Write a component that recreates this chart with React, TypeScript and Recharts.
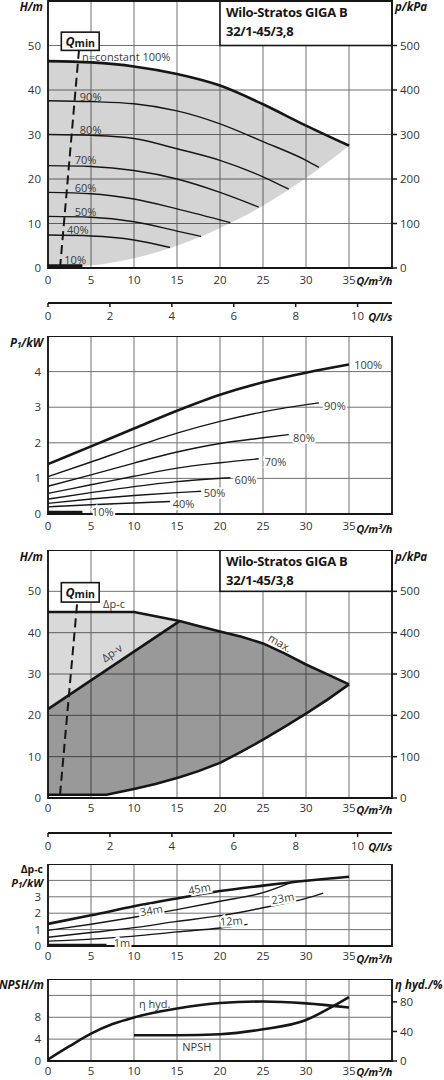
import type { ReactNode } from "react";
import { Area, CartesianGrid, ComposedChart, Line, ReferenceArea, ReferenceDot, XAxis, YAxis } from "recharts";

const FONT = '"Open Sans", "Noto Sans", Arial, sans-serif';
const INK = "#161616";
const GRID = "#707070";
const TEXT = "#333";
const LABEL = "#3c3c3c";
const W = 444;

// axis ticks
const Q_TICKS = [0, 5, 10, 15, 20, 25, 30, 35];
const QLS_TICKS = [0, 2, 4, 6, 8, 10];
const H_TICKS = [0, 10, 20, 30, 40, 50];
const KPA_TICKS = [0, 100, 200, 300, 400, 500];
const P1_TICKS = [0, 1, 2, 3, 4];
const NPSH_TICKS = [0, 4, 8, 12];
const ETA_TICKS = [0, 40, 80];

// chart 1: H over Q at constant speed, [Q m³/h, H m]
const H_100 = [[0, 46.5], [5, 46.2], [10, 45.3], [15, 43.6], [20, 41.0], [25, 36.8], [30, 32.0], [35, 27.5]];
const H_90 = [[0, 37.6], [5, 37.4], [10, 36.9], [15, 35.3], [20, 32.4], [25, 28.4], [30, 24.2], [31.5, 22.6]];
const H_80 = [[0, 30.0], [5, 29.8], [10, 29.1], [15, 26.8], [20, 24.2], [25, 20.5], [28, 17.7]];
const H_70 = [[0, 23.0], [5, 22.8], [10, 21.9], [15, 20.0], [20, 17.0], [24.5, 13.7]];
const H_60 = [[0, 17.0], [5, 16.7], [10, 15.5], [15, 13.3], [21.2, 10.2]];
const H_50 = [[0, 11.6], [5, 11.4], [10, 10.4], [15, 8.3], [17.8, 7.1]];
const H_40 = [[0, 7.4], [5, 7.2], [10, 6.3], [14.2, 4.6]];
const H_10 = [[0, 0.5], [4, 0.5]];
// lower edge of the grey working range, same Q points as H_100
const RANGE_LOW = [0, 0.55, 2.2, 5.0, 9.0, 14.0, 20.2, 27.5];
const QMIN_1 = [[1.4, 0], [3.6, 48.9]];

// chart 2: P1 over Q, [Q m³/h, P1 kW]
const P_100 = [[0, 1.4], [5, 1.9], [10, 2.4], [15, 2.9], [20, 3.35], [25, 3.7], [30, 3.97], [35, 4.2]];
const P_90 = [[0, 1.05], [5, 1.46], [10, 1.88], [15, 2.27], [20, 2.6], [25, 2.87], [31.5, 3.12]];
const P_80 = [[0, 0.78], [5, 1.1], [10, 1.43], [15, 1.74], [20, 1.98], [25, 2.14], [28, 2.23]];
const P_70 = [[0, 0.58], [5, 0.82], [10, 1.06], [15, 1.29], [20, 1.44], [24.5, 1.55]];
const P_60 = [[0, 0.42], [5, 0.6], [10, 0.77], [15, 0.91], [21.2, 1.02]];
const P_50 = [[0, 0.3], [5, 0.42], [10, 0.52], [15, 0.6], [17.8, 0.64]];
const P_40 = [[0, 0.2], [5, 0.26], [10, 0.31], [14.2, 0.35]];
const P_10 = [[0, 0.05], [4, 0.05]];

// chart 3: control modes, [Q, H]
const DPC_MAX = [[0, 45], [10, 45], [15.3, 42.8], [17.5, 41.6], [20, 40.3], [22.5, 39.0], [25, 37.4], [27.5, 35.0], [30, 32.3], [32.5, 29.9], [35, 27.5]];
const DPV = [[0, 21.5], [15.3, 42.8]];
const MIN_CURVE = [[0, 0.8], [6.8, 0.8], [10, 2.2], [12.5, 3.4], [15.3, 5.0], [17.5, 6.5], [20, 8.5], [22.5, 11.2], [25, 14.1], [27.5, 17.2], [30, 20.4], [32.5, 23.8], [35, 27.5]];
// [Q, low, high]
const LIGHT_BAND = [[0, 21.5, 45], [10, 35.4, 45], [15.3, 42.8, 42.8]];
const DARK_BAND = [[0, 0.8, 21.5], [6.8, 0.8, 31.0], [10, 2.2, 35.4], [12.5, 3.4, 38.9], [15.3, 5.0, 42.8], [17.5, 6.5, 41.6], [20, 8.5, 40.3], [22.5, 11.2, 39.0], [25, 14.1, 37.4], [27.5, 17.2, 35.0], [30, 20.4, 32.3], [32.5, 23.8, 29.9], [35, 27.5, 27.5]];
const QMIN_3 = [[1.4, 0.8], [3.4, 47.4]];

// chart 4: P1 at Δp-c set points, [Q, P1]
const C_45 = [[0, 1.35], [5, 1.87], [10, 2.42], [15, 2.9], [20, 3.35], [25, 3.68], [30, 3.98], [35, 4.22]];
const C_34 = [[0, 0.95], [5, 1.33], [10, 1.75], [15, 2.22], [20, 2.73], [25, 3.25], [28.3, 3.88]];
const C_23 = [[0, 0.53], [5, 0.82], [10, 1.12], [15, 1.5], [20, 1.85], [25, 2.33], [30, 2.9], [32, 3.22]];
const C_12 = [[0, 0.3], [5, 0.42], [10, 0.6], [15, 0.86], [20, 1.1], [23.2, 1.32]];
const C_1 = [[0, 0.05], [6.8, 0.05]];

// chart 5
const ETA = [[0, 2], [2.5, 20], [5, 37], [7.5, 50], [10, 59], [15, 71], [20, 78.5], [25, 80.5], [30, 78], [35, 72.5]];
const NPSH = [[10, 4.7], [15, 4.7], [20, 4.9], [25, 5.8], [30, 7.5], [33, 9.9], [35, 11.7]];

const tickStyle = { fontSize: 11.5, fill: TEXT, fontFamily: FONT };

function curve(key: string, pts: number[][], yId: string, width: number, opts: { dash?: string; linear?: boolean } = {}) {
  return (
    <Line
      key={key}
      data={pts.map(([q, v]) => ({ q, v }))}
      dataKey="v"
      xAxisId="q"
      yAxisId={yId}
      type={opts.linear ? "linear" : "monotone"}
      stroke={INK}
      strokeWidth={width}
      strokeDasharray={opts.dash}
      dot={false}
      activeDot={false}
      isAnimationActive={false}
    />
  );
}

// invisible series so that an axis without its own data still gets drawn
function carrier(key: string, xId: string, yId: string, xs: number[], ys: number[]) {
  return (
    <Line key={key} data={xs.map((q, i) => ({ q, v: ys[i] }))} dataKey="v" xAxisId={xId} yAxisId={yId} stroke="none" dot={false} activeDot={false} isAnimationActive={false} />
  );
}

function band(key: string, rows: number[][], yId: string, opacity: number, linear = false) {
  return (
    <Area
      key={key}
      data={rows.map(([q, lo, hi]) => ({ q, r: [lo, hi] }))}
      dataKey="r"
      xAxisId="q"
      yAxisId={yId}
      type={linear ? "linear" : "monotone"}
      stroke="none"
      fill="#000"
      fillOpacity={opacity}
      isAnimationActive={false}
    />
  );
}

function tag(key: string, q: number, v: number, text: ReactNode, yId: string, o: { rotate?: number; anchor?: "start" | "middle" | "end"; halo?: boolean } = {}) {
  return (
    <ReferenceDot
      key={key}
      xAxisId="q"
      yAxisId={yId}
      x={q}
      y={v}
      r={0}
      ifOverflow="visible"
      shape={(p: any) => (
        <text
          x={p.cx}
          y={p.cy}
          textAnchor={o.anchor ?? "start"}
          dominantBaseline="central"
          transform={o.rotate ? `rotate(${o.rotate} ${p.cx} ${p.cy})` : undefined}
          fontFamily={FONT}
          fontSize={11}
          fill={LABEL}
          stroke={o.halo ? "#fff" : "none"}
          strokeWidth={o.halo ? 4 : 0}
          paintOrder="stroke"
        >
          {text}
        </text>
      )}
    />
  );
}

function frame(key: string, yId: string, yMax: number) {
  return (
    <ReferenceArea key={key} xAxisId="q" yAxisId={yId} x1={0} x2={40} y1={0} y2={yMax} ifOverflow="visible" fill="none" stroke={INK} strokeWidth={1.8} />
  );
}

function titleBox(key: string) {
  return (
    <ReferenceArea
      key={key}
      xAxisId="q"
      yAxisId="h"
      x1={20}
      x2={40}
      y1={50}
      y2={60}
      ifOverflow="visible"
      shape={(p: any) => (
        <g>
          <rect x={p.x} y={p.y} width={p.width} height={p.height} fill="#fff" stroke={INK} strokeWidth={1.6} />
          <text x={p.x + 6} y={p.y + 11} dominantBaseline="central" fontFamily={FONT} fontWeight={700} fontSize={13} letterSpacing={-0.3} fill={INK}>
            Wilo-Stratos GIGA B
          </text>
          <text x={p.x + 6} y={p.y + 29.5} dominantBaseline="central" fontFamily={FONT} fontWeight={700} fontSize={13} letterSpacing={-0.3} fill={INK}>
            32/1-45/3,8
          </text>
        </g>
      )}
    />
  );
}

function qminBox(key: string, y1: number, y2: number) {
  return (
    <ReferenceArea
      key={key}
      xAxisId="q"
      yAxisId="h"
      x1={1.55}
      x2={5.95}
      y1={y1}
      y2={y2}
      ifOverflow="visible"
      shape={(p: any) => (
        <g>
          <rect x={p.x} y={p.y} width={p.width} height={p.height} fill="#fff" stroke={INK} strokeWidth={1.6} />
          <text x={p.x + p.width / 2} y={p.y + p.height / 2} textAnchor="middle" dominantBaseline="central" fontFamily={FONT} fontWeight={700} fontSize={12.5} fill={INK}>
            <tspan fontStyle="italic">Q</tspan>
            <tspan fontSize={10.5} dy={1.5}>min</tspan>
          </text>
        </g>
      )}
    />
  );
}

function headAxes(mainH: number, gap: number) {
  return [
    <XAxis key="xq" xAxisId="q" type="number" dataKey="q" domain={[0, 40]} ticks={Q_TICKS} height={mainH} axisLine={false} tickLine={false} tickSize={0} tickMargin={gap} tick={tickStyle} interval={0} />,
    <YAxis key="yh" yAxisId="h" type="number" domain={[0, 60]} ticks={H_TICKS} width={48} axisLine={false} tickLine={false} tickSize={0} tickMargin={7} tick={tickStyle} interval={0} />,
    <YAxis key="yp" yAxisId="kpa" orientation="right" type="number" domain={[0, 600]} ticks={KPA_TICKS} width={52} axisLine={false} tickLine={{ stroke: INK, strokeWidth: 1.5 }} tickSize={5} tickMargin={3} tick={tickStyle} interval={0} />,
    <CartesianGrid key="grid" xAxisId="q" yAxisId="h" stroke={GRID} strokeWidth={1} />,
    carrier("kpaCarrier", "q", "kpa", [0, 40], [0, 600]),
  ];
}

// the Q in l/s scale under the head charts (10 l/s = 36 m³/h)
function FlowLsAxis() {
  return (
    <ComposedChart width={W} height={30} margin={{ top: 1, right: 52, bottom: 0, left: 48 }}>
      <XAxis xAxisId="ls" type="number" dataKey="q" domain={[0, 40 / 3.6]} ticks={QLS_TICKS} height={29} axisLine={{ stroke: INK, strokeWidth: 1.8 }} tickLine={{ stroke: INK, strokeWidth: 1.5 }} tickSize={4} tickMargin={5} tick={tickStyle} interval={0} />
      <YAxis yAxisId="d" hide domain={[0, 1]} />
      {carrier("lsCarrier", "ls", "d", [0, 40 / 3.6], [0, 0])}
    </ComposedChart>
  );
}

function SpeedHeadChart() {
  const rangeRows = H_100.map(([q, h], i) => [q, RANGE_LOW[i], h]);
  return (
    <ComposedChart width={W} height={303} margin={{ top: 1, right: 0, bottom: 0, left: 0 }}>
      {headAxes(35, 8)}
      {band("range", rangeRows, "h", 0.17)}
      {curve("h90", H_90, "h", 1.4)}
      {curve("h80", H_80, "h", 1.4)}
      {curve("h70", H_70, "h", 1.4)}
      {curve("h60", H_60, "h", 1.4)}
      {curve("h50", H_50, "h", 1.4)}
      {curve("h40", H_40, "h", 1.4)}
      {curve("h10", H_10, "h", 3, { linear: true })}
      {curve("h100", H_100, "h", 2.6)}
      {curve("qmin", QMIN_1, "h", 2, { dash: "9 5", linear: true })}
      {titleBox("title")}
      {qminBox("qminbox", 48.9, 53)}
      {tag("t100", 3.95, 47.5, "n=constant 100%", "h")}
      {tag("t90", 3.7, 38.5, "90%", "h")}
      {tag("t80", 3.7, 31.1, "80%", "h")}
      {tag("t70", 3.1, 24.3, "70%", "h")}
      {tag("t60", 3.1, 18.1, "60%", "h")}
      {tag("t50", 3.1, 12.8, "50%", "h")}
      {tag("t40", 2.2, 8.6, "40%", "h")}
      {tag("t10", 1.9, 2.0, "10%", "h")}
      {frame("frame", "h", 60)}
    </ComposedChart>
  );
}

function SpeedPowerChart() {
  return (
    <ComposedChart width={W} height={198} margin={{ top: 0, right: 52, bottom: 0, left: 0 }}>
      <XAxis xAxisId="q" type="number" dataKey="q" domain={[0, 40]} ticks={Q_TICKS} height={20} axisLine={false} tickLine={false} tickSize={0} tickMargin={8} tick={tickStyle} interval={0} />
      <YAxis yAxisId="p" type="number" domain={[0, 5]} ticks={P1_TICKS} width={48} axisLine={false} tickLine={false} tickSize={0} tickMargin={7} tick={tickStyle} interval={0} />
      <CartesianGrid xAxisId="q" yAxisId="p" stroke={GRID} strokeWidth={1} />
      {curve("p90", P_90, "p", 1.4)}
      {curve("p80", P_80, "p", 1.4)}
      {curve("p70", P_70, "p", 1.4)}
      {curve("p60", P_60, "p", 1.4)}
      {curve("p50", P_50, "p", 1.4)}
      {curve("p40", P_40, "p", 1.4)}
      {curve("p10", P_10, "p", 3, { linear: true })}
      {curve("p100", P_100, "p", 2.6)}
      {tag("l100", 35.6, 4.2, "100%", "p", { halo: true })}
      {tag("l90", 32.1, 3.04, "90%", "p", { halo: true })}
      {tag("l80", 28.5, 2.16, "80%", "p", { halo: true })}
      {tag("l70", 25.2, 1.48, "70%", "p", { halo: true })}
      {tag("l60", 21.7, 0.96, "60%", "p", { halo: true })}
      {tag("l50", 18.1, 0.59, "50%", "p", { halo: true })}
      {tag("l40", 14.5, 0.3, "40%", "p", { halo: true })}
      {tag("l10", 5.1, 0.07, "10%", "p", { halo: true })}
      {frame("frame", "p", 5)}
    </ComposedChart>
  );
}

function ControlHeadChart() {
  return (
    <ComposedChart width={W} height={282} margin={{ top: 0, right: 0, bottom: 0, left: 0 }}>
      {headAxes(34, 6)}
      {band("light", LIGHT_BAND, "h", 0.15, true)}
      {band("dark", DARK_BAND, "h", 0.4, true)}
      {curve("dpv", DPV, "h", 2.6, { linear: true })}
      {curve("min", MIN_CURVE, "h", 2.6, { linear: true })}
      {curve("max", DPC_MAX, "h", 2.6, { linear: true })}
      {curve("qmin", QMIN_3, "h", 2, { dash: "9 5", linear: true })}
      {titleBox("title")}
      {qminBox("qminbox", 47.4, 52.1)}
      {tag("dpc", 6.4, 47.0, "Δp-c", "h")}
      {tag("dpvl", 7.4, 35.2, "Δp-v", "h", { anchor: "middle", rotate: -34 })}
      {tag("maxl", 27.0, 37.6, "max.", "h", { anchor: "middle", rotate: 30 })}
      {frame("frame", "h", 60)}
    </ComposedChart>
  );
}

function ControlPowerChart() {
  return (
    <ComposedChart width={W} height={102} margin={{ top: 0, right: 52, bottom: 0, left: 0 }}>
      <XAxis xAxisId="q" type="number" dataKey="q" domain={[0, 40]} ticks={Q_TICKS} height={20} axisLine={false} tickLine={false} tickSize={0} tickMargin={6} tick={tickStyle} interval={0} />
      <YAxis yAxisId="p" type="number" domain={[0, 5]} ticks={P1_TICKS} width={48} axisLine={false} tickLine={false} tickSize={0} tickMargin={7} tick={tickStyle} interval={0} tickFormatter={(v: number) => (v === 4 ? "" : String(v))} />
      <CartesianGrid xAxisId="q" yAxisId="p" stroke={GRID} strokeWidth={1} />
      {curve("c34", C_34, "p", 1.4)}
      {curve("c23", C_23, "p", 1.4)}
      {curve("c12", C_12, "p", 1.4)}
      {curve("c1", C_1, "p", 3, { linear: true })}
      {curve("c45", C_45, "p", 2.6)}
      {tag("m45", 17.6, 3.52, "45m", "p", { anchor: "middle", rotate: -10, halo: true })}
      {tag("m34", 12.0, 2.2, "34m", "p", { anchor: "middle", rotate: -10, halo: true })}
      {tag("m23", 27.3, 2.94, "23m", "p", { anchor: "middle", rotate: -10, halo: true })}
      {tag("m12", 21.3, 1.55, "12m", "p", { anchor: "middle", rotate: -4, halo: true })}
      {tag("m1", 8.6, 0.21, "1m", "p", { anchor: "middle", halo: true })}
      {frame("frame", "p", 5)}
    </ComposedChart>
  );
}

function NpshChart() {
  return (
    <ComposedChart width={W} height={101} margin={{ top: 0, right: 0, bottom: 0, left: 0 }}>
      <XAxis xAxisId="q" type="number" dataKey="q" domain={[0, 40]} ticks={Q_TICKS} height={19} axisLine={false} tickLine={false} tickSize={0} tickMargin={6} tick={tickStyle} interval={0} />
      <YAxis yAxisId="n" type="number" domain={[0, 15]} ticks={NPSH_TICKS} width={48} axisLine={false} tickLine={false} tickSize={0} tickMargin={7} tick={tickStyle} interval={0} tickFormatter={(v: number) => (v === 12 ? "" : String(v))} />
      <YAxis yAxisId="eta" orientation="right" type="number" domain={[0, 111]} ticks={ETA_TICKS} width={52} axisLine={false} tickLine={{ stroke: INK, strokeWidth: 1.5 }} tickSize={5} tickMargin={3} tick={tickStyle} interval={0} />
      <CartesianGrid xAxisId="q" yAxisId="n" stroke={GRID} strokeWidth={1} />
      {curve("eta", ETA, "eta", 2.6)}
      {curve("npsh", NPSH, "n", 2.6)}
      {tag("etal", 12.4, 10.6, "η hyd.", "n", { anchor: "middle" })}
      {tag("npshl", 17.3, 2.7, "NPSH", "n", { anchor: "middle" })}
      {frame("frame", "n", 15)}
    </ComposedChart>
  );
}

function Caption({ x, y, alignRight, children, italic = true, tight, size }: { x: number; y: number; alignRight?: boolean; children: ReactNode; italic?: boolean; tight?: boolean; size?: number }) {
  return (
    <div
      style={{
        position: "absolute",
        top: y,
        left: alignRight ? undefined : x,
        right: alignRight ? W - x : undefined,
        transform: "translateY(-50%)",
        lineHeight: 1,
        fontSize: size ?? (tight ? 11 : 11.5),
        letterSpacing: tight ? -0.4 : 0,
        fontWeight: 700,
        fontStyle: italic ? "italic" : "normal",
        color: INK,
        whiteSpace: "nowrap",
      }}
    >
      {children}
    </div>
  );
}

const P1 = (
  <>
    P<span style={{ fontSize: 8, verticalAlign: "-1px", lineHeight: 0 }}>1</span>/kW
  </>
);

export default function App() {
  const at = (top: number, node: ReactNode) => <div style={{ position: "absolute", left: 0, top }}>{node}</div>;
  return (
    <div style={{ position: "absolute", left: 0, top: 0, width: W, height: 1080, background: "#fff", overflow: "hidden", fontFamily: FONT }}>
      {at(0, <SpeedHeadChart />)}
      {at(302, <FlowLsAxis />)}
      {at(336, <SpeedPowerChart />)}
      {at(550, <ControlHeadChart />)}
      {at(831.5, <FlowLsAxis />)}
      {at(864, <ControlPowerChart />)}
      {at(979, <NpshChart />)}

      <Caption x={43} y={7} alignRight>H/m</Caption>
      <Caption x={395} y={7}>p/kPa</Caption>
      <Caption x={392} y={280} alignRight tight>Q/m³/h</Caption>
      <Caption x={392} y={316} alignRight tight>Q/l/s</Caption>

      <Caption x={43} y={343} alignRight>{P1}</Caption>
      <Caption x={392} y={527.5} alignRight tight>Q/m³/h</Caption>

      <Caption x={43} y={557} alignRight>H/m</Caption>
      <Caption x={395} y={557}>p/kPa</Caption>
      <Caption x={392} y={809} alignRight tight>Q/m³/h</Caption>
      <Caption x={392} y={845.5} alignRight tight>Q/l/s</Caption>

      <Caption x={43} y={868.5} alignRight italic={false} size={10.5}>Δp-c</Caption>
      <Caption x={43} y={882} alignRight size={11}>{P1}</Caption>
      <Caption x={392} y={957.5} alignRight tight>Q/m³/h</Caption>

      <Caption x={44} y={985} alignRight>NPSH/m</Caption>
      <Caption x={395} y={985}>η hyd./%</Caption>
      <Caption x={392} y={1070.5} alignRight tight>Q/m³/h</Caption>
    </div>
  );
}
